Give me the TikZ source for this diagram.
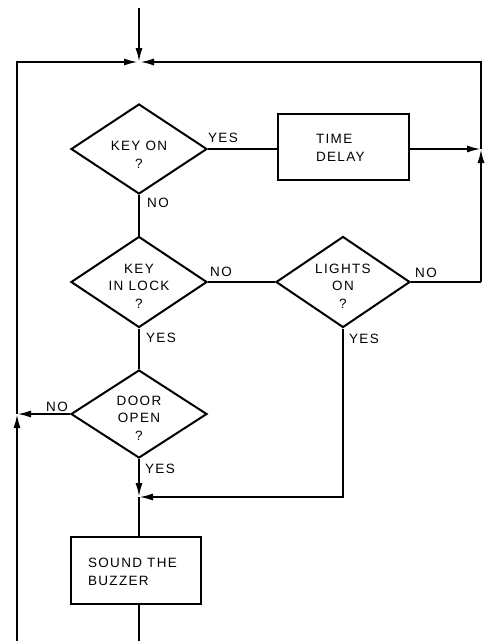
\documentclass[tikz,border=0pt]{standalone}
\usepackage{fontspec}
\setmainfont[LetterSpace=10]{Liberation Sans}
\usetikzlibrary{shapes.geometric,arrows.meta}
\begin{document}
\begin{tikzpicture}[x=1pt,y=-1pt,
  line width=2pt,
  every node/.style={font=\fontsize{13.5}{17.5}\selectfont},
  tip/.style={-{Latex[length=14pt,width=7pt]}},
  dia/.style={draw,diamond,inner sep=0pt,minimum width=136pt,minimum height=90pt,line width=2pt},
  procbox/.style={draw,rectangle,inner sep=0pt,line width=2pt},
  txt/.style={align=center,inner sep=0pt},
  lbl/.style={inner sep=0pt,anchor=center}]
\useasboundingbox (0,0) rectangle (486,641);

% decision and process nodes
\node[dia] (keyon) at (139,149) {};
\node[txt] (keyont) at (139,155) {KEY ON\\?};
\node[procbox,minimum width=131pt,minimum height=66pt] (delay) at (343.5,147) {};
\node[txt,align=left,anchor=west] (delayt) at (315,148) {TIME\\DELAY};
\node[dia,minimum height=91pt] (lock) at (139,282) {};
\node[txt] (lockt) at (139,286) {KEY\\IN LOCK\\?};
\node[dia,minimum width=134pt,minimum height=91pt] (lights) at (343,282) {};
\node[txt] (lightst) at (343,286) {LIGHTS\\ON\\?};
\node[dia,minimum height=88pt] (door) at (139,414) {};
\node[txt] (doort) at (139,418) {DOOR\\OPEN\\?};
\node[procbox,minimum width=130pt,minimum height=67pt] (buzz) at (136,570.5) {};
\node[txt,align=left,anchor=west] (buzzt) at (87,572) {SOUND THE\\BUZZER};

% labels
\node[lbl] (l1) at (223,138) {YES};
\node[lbl] (l2) at (158,203) {NO};
\node[lbl] (l3) at (221,272) {NO};
\node[lbl] (l4) at (426,273) {NO};
\node[lbl] (l5) at (161,338) {YES};
\node[lbl] (l6) at (364,339) {YES};
\node[lbl] (l7) at (57,407) {NO};
\node[lbl] (l8) at (160,469) {YES};

% junctions
\coordinate (start) at (139,8);
\coordinate (jtop) at (139,62);
\coordinate (jtopl) at (138,62);
\coordinate (jtopr) at (140,62);
\coordinate (tl) at (17,62);
\coordinate (tr) at (481,62);
\coordinate (rj) at (481,149);
\coordinate (rb) at (481,282);
\coordinate (lj) at (17,414);
\coordinate (lb) at (17,645);
\coordinate (jmid) at (139,497);
\coordinate (bot) at (139,645);

% connectors
\draw[tip] (start) -- (jtop);
\draw[tip] (lj) -- (tl) -- (jtopl);
\draw[tip] (rj) -- (tr) -- (jtopr);
\draw (keyon.east) -- (keyon.east -| delay.west);
\draw[tip] (delay.east |- rj) -- (rj);
\draw[tip] (rb) -- (rj);
\draw (keyon.south) -- (lock.north);
\draw (lock.east) -- (lights.west);
\draw (lights.east) -- (rb);
\draw (lock.south) -- (door.north);
\draw[tip] (door.west) -- (lj);
\draw[tip] (lb) -- (lj);
\draw[tip] (door.south) -- (jmid);
\draw[tip] (lights.south) |- (jmid);
\draw (jmid) -- (jmid |- buzz.north);
\draw (jmid |- buzz.south) -- (bot);
\end{tikzpicture}
\end{document}
